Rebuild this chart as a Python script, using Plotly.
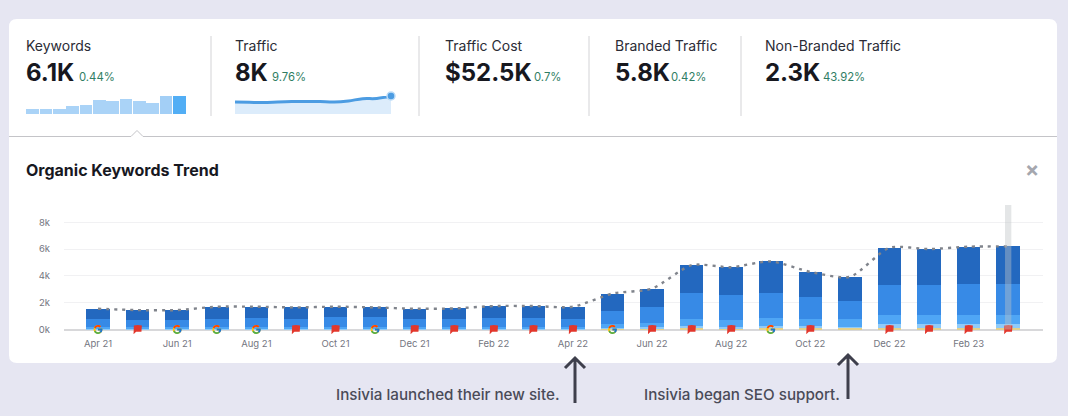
import base64
import plotly.graph_objects as go

W, H = 1068, 416
months = ["Apr 21","May 21","Jun 21","Jul 21","Aug 21","Sep 21","Oct 21","Nov 21","Dec 21","Jan 22","Feb 22","Mar 22",
          "Apr 22","May 22","Jun 22","Jul 22","Aug 22","Sep 22","Oct 22","Nov 22","Dec 22","Jan 23","Feb 23","Mar 23"]
tick_labels = months[0:24:2]
top4 = [.80,.75,.75,.88,.83,.83,.80,.75,.75,.77,.90,.90,.90,1.30,1.40,2.10,2.07,2.36,1.90,1.78,2.77,2.67,2.80,2.82]
pos4_10 = [.57,.53,.53,.62,.67,.62,.68,.70,.62,.62,.65,.65,.60,.98,1.15,1.92,1.88,1.87,1.62,1.40,2.25,2.25,2.33,2.28]
pos11_20 = [.11,.10,.10,.12,.12,.12,.14,.12,.11,.11,.12,.12,.12,.27,.35,.53,.50,.60,.53,.55,.68,.70,.65,.70]
pos21_50 = [.05,.05,.05,.06,.06,.06,.06,.06,.05,.05,.05,.05,.05,.08,.09,.15,.10,.15,.15,.08,.27,.25,.27,.27]
pos51_100 = [.02,.02,.02,.02,.02,.02,.02,.02,.02,.02,.03,.03,.03,.05,.06,.10,.10,.10,.10,.12,.13,.13,.13,.13]
totals = [1.55,1.45,1.45,1.70,1.70,1.65,1.70,1.65,1.55,1.57,1.75,1.75,1.70,2.68,3.05,4.80,4.65,5.08,4.30,3.93,6.10,6.00,6.18,6.20]
icons = ["G","F","G","G","G","F","F","G","F","F","F","F","F","G","F","F","F","G","F","","F","F","F","F"]
mini_bars = [1.8,1.7,1.7,2.6,2.9,4.7,4.5,5.1,4.3,3.85,6.1,6.1]
mini_line = [5.3,5.2,5.1,5.3,5.5,5.6,5.5,5.3,5.8,6.8,6.9,8.0]
metrics = [("Keywords","6.1K","0.44%"),("Traffic","8K","9.76%"),("Traffic Cost","$52.5K","0.7%"),
           ("Branded Traffic","5.8K","0.42%"),("Non-Branded Traffic","2.3K","43.92%")]
FONT = "Inter, Roboto, sans-serif"

def px(x): return x / W
def py(y): return 1 - y / H
def pth(points):
    return "M" + " L".join(f"{px(x):.5f},{py(y):.5f}" for x, y in points)

fig = go.Figure()
idx = list(range(len(months)))
for vals, col in [(pos51_100,"#e3d08c"),(pos21_50,"#8fcbf9"),(pos11_20,"#4fa6f5"),(pos4_10,"#378ae6"),(top4,"#2368bf")]:
    fig.add_bar(x=idx, y=vals, marker=dict(color=col, line_width=0), showlegend=False, hoverinfo="skip")
fig.add_scatter(x=idx, y=totals, mode="lines", showlegend=False, hoverinfo="skip",
                line=dict(color="#80848c", width=2.4, dash="3px,5px", shape="spline", smoothing=0.7))

fig.add_bar(x=list(range(12)), y=mini_bars, xaxis="x2", yaxis="y2", showlegend=False, hoverinfo="skip", width=0.93,
            marker=dict(color=["#aad3f7"]*10+["#a3cff6","#52aef5"], line_width=0))
fig.add_scatter(x=list(range(12)), y=mini_line, xaxis="x3", yaxis="y3", mode="lines", fill="tozeroy",
                fillcolor="#dcecfb", line=dict(color="#4c9ce2", width=3, shape="spline"), showlegend=False, hoverinfo="skip")
fig.add_scatter(x=[11], y=mini_line[-1:], xaxis="x3", yaxis="y3", mode="markers", showlegend=False, hoverinfo="skip",
                marker=dict(color="#4c9ce2", size=8, line=dict(color="#bcdcf7", width=1.5)), cliponaxis=False)

shapes = []
ann = []
def text(x, y, t, size, color, weight=400, anchor="left"):
    ann.append(dict(xref="paper", yref="paper", x=px(x), y=py(y), text=t, showarrow=False, xanchor=anchor,
                    yanchor="middle", font=dict(family=FONT, size=size, color=color, weight=weight),
                    xshift=-2 if anchor == "left" else 0))

r = 8
x0, x1, y0, y1 = 9, 1057, 19, 363
card = (f"M{px(x0+r)},{py(y0)} L{px(x1-r)},{py(y0)} Q{px(x1)},{py(y0)} {px(x1)},{py(y0+r)} L{px(x1)},{py(y1-r)} "
        f"Q{px(x1)},{py(y1)} {px(x1-r)},{py(y1)} L{px(x0+r)},{py(y1)} Q{px(x0)},{py(y1)} {px(x0)},{py(y1-r)} "
        f"L{px(x0)},{py(y0+r)} Q{px(x0)},{py(y0)} {px(x0+r)},{py(y0)} Z")
shapes.append(dict(type="path", xref="paper", yref="paper", path=card, fillcolor="white", line_width=0, layer="below"))
for dx in (211, 419, 589, 741):
    shapes.append(dict(type="line", xref="paper", yref="paper", x0=px(dx), x1=px(dx), y0=py(36), y1=py(116),
                       line=dict(color="#d3d3d6", width=1), layer="below"))
shapes.append(dict(type="path", xref="paper", yref="paper", layer="below", line=dict(color="#c4c4c8", width=1),
                   path=pth([(9,136.5),(131,136.5),(137,130.5),(143,136.5),(1057,136.5)])))
for ax, tip, bottom in ((575, 358, 403), (848, 355, 399)):
    shapes.append(dict(type="path", xref="paper", yref="paper", line=dict(color="#3e3f4c", width=3),
                       path=pth([(ax, bottom),(ax, tip)]) + " " + pth([(ax-10, tip+10),(ax, tip),(ax+10, tip+10)])))
shapes.append(dict(type="rect", xref="x", yref="y", x0=22.92, x1=23.08, y0=0, y1=9.3,
                   fillcolor="rgba(190,196,198,0.42)", line_width=0, layer="above"))

label_x = [26, 235, 445, 615, 765]
pct_x = [79, 272, 534, 671, 823]
for (name, val, pct), lx, ptx in zip(metrics, label_x, pct_x):
    text(lx, 45.5, name, 14, "#2b2c36")
    text(lx, 73, val, 24, "#17181f", 700)
    text(ptx, 76.5, pct, 11.3, "#2f7d63")
text(26, 170, "Organic Keywords Trend", 16, "#17181f", 700)
text(1032, 169, "×", 21, "#a5a7ae", 700, "center")
text(336, 394, "Insivia launched their new site.", 15.2, "#4a4b58", 500)
text(644, 394, "Insivia began SEO support.", 15.2, "#4a4b58", 500)

def uri(svg):
    return "data:image/svg+xml;base64," + base64.b64encode(svg.encode()).decode()
G = uri('<svg xmlns="http://www.w3.org/2000/svg" viewBox="0 0 48 48">'
        '<path fill="#FFC107" d="M43.6 20.5H42V20H24v8h11.3c-1.6 4.7-6.1 8-11.3 8-6.6 0-12-5.4-12-12s5.4-12 12-12c3.1 0 5.8 1.2 8 3l5.7-5.7C34 6.1 29.3 4 24 4 13 4 4 13 4 24s9 20 20 20 20-9 20-20c0-1.3-.1-2.4-.4-3.5z"/>'
        '<path fill="#FF3D00" d="M6.3 14.7l6.6 4.8C14.7 15.1 19 12 24 12c3.1 0 5.8 1.2 8 3l5.7-5.7C34 6.1 29.3 4 24 4 16.3 4 9.7 8.3 6.3 14.7z"/>'
        '<path fill="#4CAF50" d="M24 44c5.2 0 9.9-2 13.4-5.2l-6.2-5.2C29.2 35.1 26.7 36 24 36c-5.2 0-9.6-3.3-11.3-8l-6.5 5C9.5 39.6 16.2 44 24 44z"/>'
        '<path fill="#1976D2" d="M43.6 20.5H42V20H24v8h11.3c-.8 2.2-2.2 4.2-4.1 5.6l6.2 5.2C37 39.2 44 34 44 24c0-1.3-.1-2.4-.4-3.5z"/></svg>')
F = uri('<svg xmlns="http://www.w3.org/2000/svg" viewBox="0 0 10 10">'
        '<path fill="#e2372c" d="M1.5 1.2 Q5 0.4 9 1.2 L8.6 7 L3.6 7 L1.2 9.4 Z"/></svg>')
images = []
for i, kind in zip(idx, icons):
    if kind:
        images.append(dict(source=G if kind == "G" else F, xref="x", yref="y", x=i, y=0.0, sizex=0.27, sizey=0.8,
                           xanchor="center", yanchor="middle", layer="above", sizing="contain"))

hidden = dict(visible=False, fixedrange=True)
fig.update_layout(
    width=W, height=H, margin=dict(l=0, r=0, t=0, b=0, autoexpand=False), paper_bgcolor="#e6e6f2", plot_bgcolor="rgba(0,0,0,0)",
    barmode="stack", bargap=0.406, shapes=shapes, annotations=ann, images=images, showlegend=False,
    font=dict(family=FONT),
    xaxis=dict(domain=[px(64), px(1043)], range=[-0.86, 23.88], tickmode="array", tickvals=idx[0::2], ticktext=tick_labels,
               showgrid=False, zeroline=False, showline=False, ticks="", tickfont=dict(size=9.5, color="#74767f"),
               ticklabelstandoff=0, automargin=False),
    yaxis=dict(domain=[py(336.2), py(205)], range=[-0.5, 9.29], tickmode="array", tickvals=[0,2,4,6,8],
               ticktext=["0k","2k","4k","6k","8k"], gridcolor="#f1f1f3", gridwidth=1, zeroline=True, zerolinecolor="#d8d8da",
               zerolinewidth=1.5, ticks="", tickfont=dict(size=9.5, color="#74767f"), ticklabelstandoff=13, automargin=False),
    xaxis2=dict(domain=[px(26), px(186)], range=[-0.5, 11.5], anchor="y2", **hidden),
    yaxis2=dict(domain=[py(114), py(96)], range=[0, 6.1], anchor="x2", **hidden),
    xaxis3=dict(domain=[px(235), px(391)], range=[0, 11], anchor="y3", **hidden),
    yaxis3=dict(domain=[py(114), py(96)], range=[0, 8], anchor="x3", **hidden),
)
fig.write_html("out.html", config=dict(displayModeBar=False), post_script="document.body.style.margin='0';")
